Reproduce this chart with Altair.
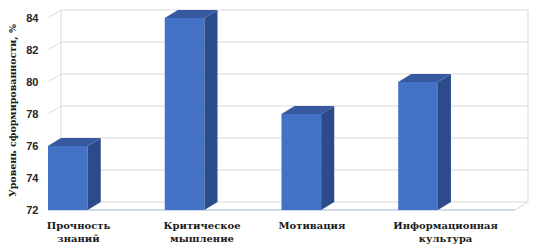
import altair as alt
import pandas as pd

# ---- data ----
categories = ["Прочность\nзнаний", "Критическое\nмышление", "Мотивация", "Информационная\nкультура"]
values = [76.0, 84.0, 78.0, 80.0]
y_ticks = [72, 74, 76, 78, 80, 82, 84]
y_title = "Уровень сформированности, %"

# ---- 3D styling constants (in scale units) ----
BASE = 72.0
N = len(categories)
BW = 0.34      # bar width (slot units)
DX = 0.112     # depth, horizontal (slot units)
DY = 0.5       # depth, vertical (value units)
CHAR = 0.029   # half width of one label char (slot units)

FRONT = "#4472C4"
SIDE = "#2B4B8A"
TOP = "#3659A0"
GRID = "#D9D9D9"
FLOOR = "#9DB3DE"
SERIF = "DejaVu Serif"

xs = alt.Scale(domain=[0, N + DX], nice=False, zero=False)
ys = alt.Scale(domain=[BASE, y_ticks[-1] + DY], nice=False, zero=False)

yaxis = alt.Axis(
    values=y_ticks, title=y_title, grid=False, domain=False, ticks=False,
    labelPadding=10, labelFont="Liberation Sans", labelFontWeight="bold",
    labelFontSize=11, labelColor="#262626",
    titleFont=SERIF, titleFontWeight="bold", titleFontSize=9.5,
    titleColor="#1a1a1a", titlePadding=8)

bars = pd.DataFrame({
    "idx": list(range(N)),
    "value": values,
})
bars["x0"] = bars["idx"]
bars["x1"] = bars["idx"] + BW
bars["base"] = BASE

side_rows, top_rows = [], []
for i, v in enumerate(values):
    side_rows.append({"bar": f"b{i}", "sx": i + BW, "yt": v, "yb": BASE})
    side_rows.append({"bar": f"b{i}", "sx": i + BW + DX, "yt": v + DY, "yb": BASE + DY})
    top_rows.append({"bar": f"b{i}", "ty": v, "xl": i, "xr": i + BW})
    top_rows.append({"bar": f"b{i}", "ty": v + DY, "xl": i + DX, "xr": i + BW + DX})
side = pd.DataFrame(side_rows)
top = pd.DataFrame(top_rows)

# back-wall gridlines and side-wall diagonals
lines = []
for t in y_ticks:
    lines.append({"x": DX, "x2": N + DX, "y": t + DY, "y2": t + DY})
    lines.append({"x": 0, "x2": DX, "y": t, "y2": t + DY})
lines.append({"x": DX, "x2": DX, "y": BASE + DY, "y2": y_ticks[-1] + DY})
lines.append({"x": N + DX, "x2": N + DX, "y": BASE + DY, "y2": y_ticks[-1] + DY})
lines.append({"x": N, "x2": N + DX, "y": BASE, "y2": BASE + DY})
grid = pd.DataFrame(lines)

floor = pd.DataFrame({"x": [0], "x2": [N], "y": [BASE]})

labels = pd.DataFrame({"label": categories, "idx": list(range(N))})
labels["maxlen"] = [max(len(s) for s in c.split("\n")) for c in categories]
labels["cx"] = labels["idx"] + labels["maxlen"] * CHAR
labels["base"] = BASE

grid_layer = alt.Chart(grid).mark_rule(color=GRID, strokeWidth=1).encode(
    x=alt.X("x:Q", scale=xs, axis=None),
    x2="x2:Q",
    y=alt.Y("y:Q", scale=ys, axis=yaxis),
    y2="y2:Q",
)

floor_layer = alt.Chart(floor).mark_rule(color=FLOOR, strokeWidth=1.2).encode(
    x=alt.X("x:Q", scale=xs, axis=None),
    x2="x2:Q",
    y=alt.Y("y:Q", scale=ys, axis=yaxis),
)

front_layer = alt.Chart(bars).mark_rect(color=FRONT).encode(
    x=alt.X("x0:Q", scale=xs, axis=None),
    x2="x1:Q",
    y=alt.Y("base:Q", scale=ys, axis=yaxis),
    y2="value:Q",
)

side_layer = alt.Chart(side).mark_area(color=SIDE, opacity=1).encode(
    x=alt.X("sx:Q", scale=xs, axis=None),
    y=alt.Y("yt:Q", scale=ys, axis=yaxis, stack=None),
    y2="yb:Q",
    detail="bar:N",
)

top_layer = alt.Chart(top).mark_area(color=TOP, orient="horizontal", opacity=1).encode(
    y=alt.Y("ty:Q", scale=ys, axis=yaxis),
    x=alt.X("xl:Q", scale=xs, axis=None, stack=None),
    x2="xr:Q",
    detail="bar:N",
)

text_layer = alt.Chart(labels).mark_text(
    font=SERIF, fontWeight="bold", fontSize=10, baseline="top",
    align="center", dy=11, lineBreak="\n", lineHeight=13, color="#1a1a1a",
).encode(
    x=alt.X("cx:Q", scale=xs, axis=None),
    y=alt.Y("base:Q", scale=ys, axis=yaxis),
    text="label:N",
)

chart = alt.layer(
    grid_layer, floor_layer, front_layer, side_layer, top_layer, text_layer
).properties(
    width=480, height=200,
    padding={"left": 48, "top": 10, "right": 11, "bottom": 41},
    autosize=alt.AutoSizeParams(type="none"),
    background="white",
).configure_view(stroke=None)

chart.save("out.html", embed_options={"renderer": "svg", "actions": False})
